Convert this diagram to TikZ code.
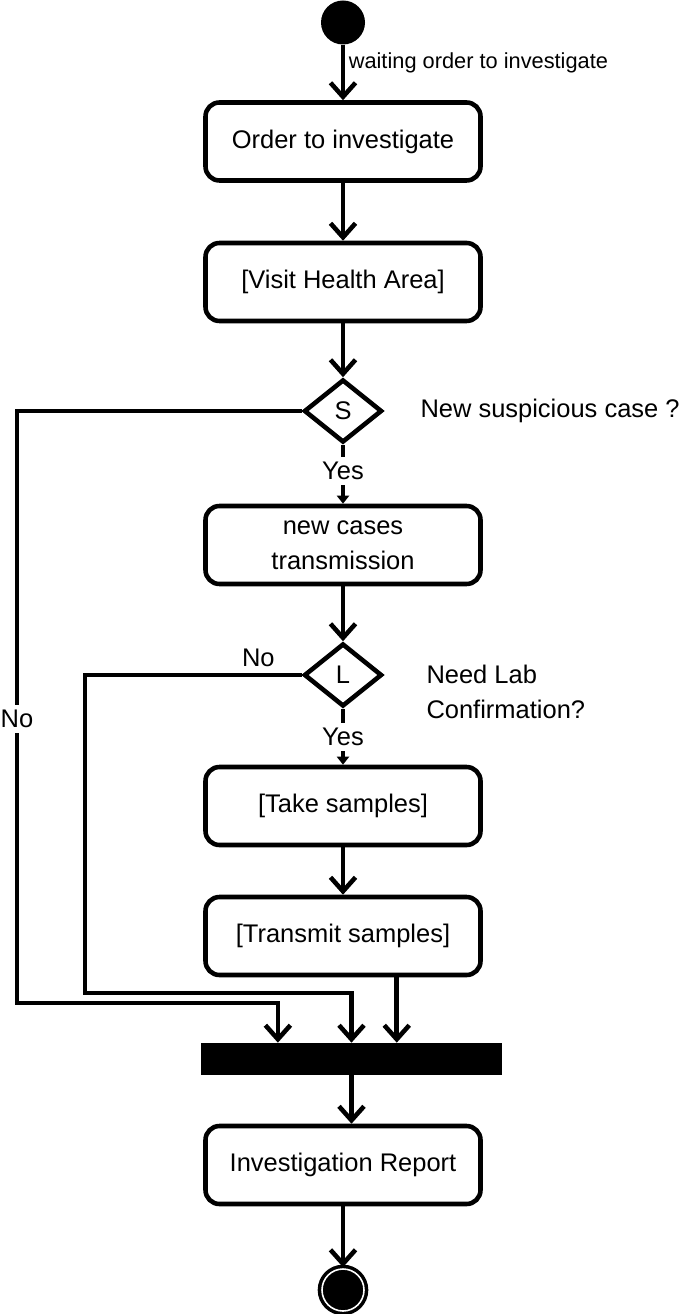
\documentclass[tikz,border=0pt]{standalone}
\usepackage{fontspec}
\setmainfont{Liberation Sans}
\usetikzlibrary{arrows.meta,positioning,calc,shapes.geometric}

\begin{document}
\begin{tikzpicture}[
				>={Straight Barb[length=0.28cm,width=0.5cm]},
				activity/.style={
					rectangle,
					draw,
					line width=2.6pt,
					rounded corners=0.28cm,
					align=center,
					minimum width=5.5cm,
					minimum height=1.56cm,
					font=\fontsize{14.5}{20}\selectfont
				},
				decision/.style={
					diamond,
					draw,
					line width=2.6pt,
					inner sep=0pt,
					minimum width=1.56cm,
					minimum height=1.26cm,
					font=\fontsize{14.5}{20}\selectfont
				},
				initial/.style={
					circle,
					fill=black,
					inner sep=0pt,
					minimum size=0.88cm
				},
				final/.style={
					circle,
					fill=black,
					draw=black,
					line width=2pt,
					double=white,
					double distance=0.9pt,
					inner sep=0pt,
					minimum size=0.84cm
				},
				joinbar/.style={
					rectangle,
					fill=black,
					inner sep=0pt,
					minimum width=6.02cm,
					minimum height=0.64cm
				},
				flow/.style={->,line width=2.6pt},
				guard/.style={-{Triangle[length=0.16cm,width=0.24cm]},line width=2.6pt},
				lbl/.style={fill=white,inner sep=3pt,font=\fontsize{14.5}{20}\selectfont},
				note/.style={align=left,font=\fontsize{14.5}{20}\selectfont}
				]
				
				\useasboundingbox (0,0) rectangle (13.7,-26.28);
				
				% -------------------------------------------------------------------------
				% Activity chain
				% -------------------------------------------------------------------------
				
				\node[initial] (start) at (6.86,-0.45) {};
				
				\node[activity] (order) at (6.86,-2.83)
				{Order to investigate};
				
				\node[activity] (visit) at (6.86,-5.64)
				{[Visit Health Area]};
				
				\node[decision] (S) at (6.86,-8.22) {S};
				
				\node[activity] (cases) at (6.86,-10.9)
				{new cases\\transmission};
				
				\node[decision] (L) at (6.86,-13.5) {L};
				
				\node[activity] (take) at (6.86,-16.12)
				{[Take samples]};
				
				\node[activity] (transmit) at (6.86,-18.72)
				{[Transmit samples]};
				
				\node[joinbar] (join) at (7.03,-21.18) {};
				
				\node[activity] (report) at (6.86,-23.3)
				{Investigation Report};
				
				\node[final] (end) at (6.86,-25.8) {};
				
				% -------------------------------------------------------------------------
				% Questions beside the decisions
				% -------------------------------------------------------------------------
				
				\node[note,right=0.6cm of S] (qS) {New suspicious case ?};
				
				\node[note,right=0.72cm of L,yshift=-0.34cm] (qL)
				{Need Lab\\Confirmation?};
				
				% -------------------------------------------------------------------------
				% Corner points and join inputs
				% -------------------------------------------------------------------------
				
				\coordinate (noS) at (0.34,-20.06);
				\coordinate (noL) at (1.7,-19.86);
				\coordinate (in1) at ($(join.north west)!0.256!(join.north east)$);
				\coordinate (in2) at ($(join.north west)!0.5!(join.north east)$);
				\coordinate (in3) at ($(join.north west)!0.65!(join.north east)$);
				
				% -------------------------------------------------------------------------
				% Main arrows
				% -------------------------------------------------------------------------
				
				\draw[flow] (start) -- node[right,pos=0.32,font=\fontsize{12.4}{14}\selectfont,inner sep=2pt]
				{waiting order to investigate} (order);
				\draw[flow] (order) -- (visit);
				\draw[flow] (visit) -- (S);
				\draw[guard] (S) -- node[lbl,pos=0.45] {Yes} (cases);
				\draw[flow] (cases) -- (L);
				\draw[guard] (L) -- node[lbl,pos=0.5] {Yes} (take);
				\draw[flow] (take) -- (transmit);
				\draw[flow] (in3 |- transmit.south) -- (in3);
				\draw[flow] (join.south) -- (join.south |- report.north);
				\draw[flow] (report) -- (end);
				
				% -------------------------------------------------------------------------
				% No branches into the join bar
				% -------------------------------------------------------------------------
				
				\draw[flow] (S.west) -| node[lbl,pos=0.76] {No} (noS) -| (in1);
				\draw[flow] (L.west) -| node[above,pos=0.1,font=\fontsize{14.5}{20}\selectfont] {No} (noL) -| (in2);
				
\end{tikzpicture}
\end{document}
